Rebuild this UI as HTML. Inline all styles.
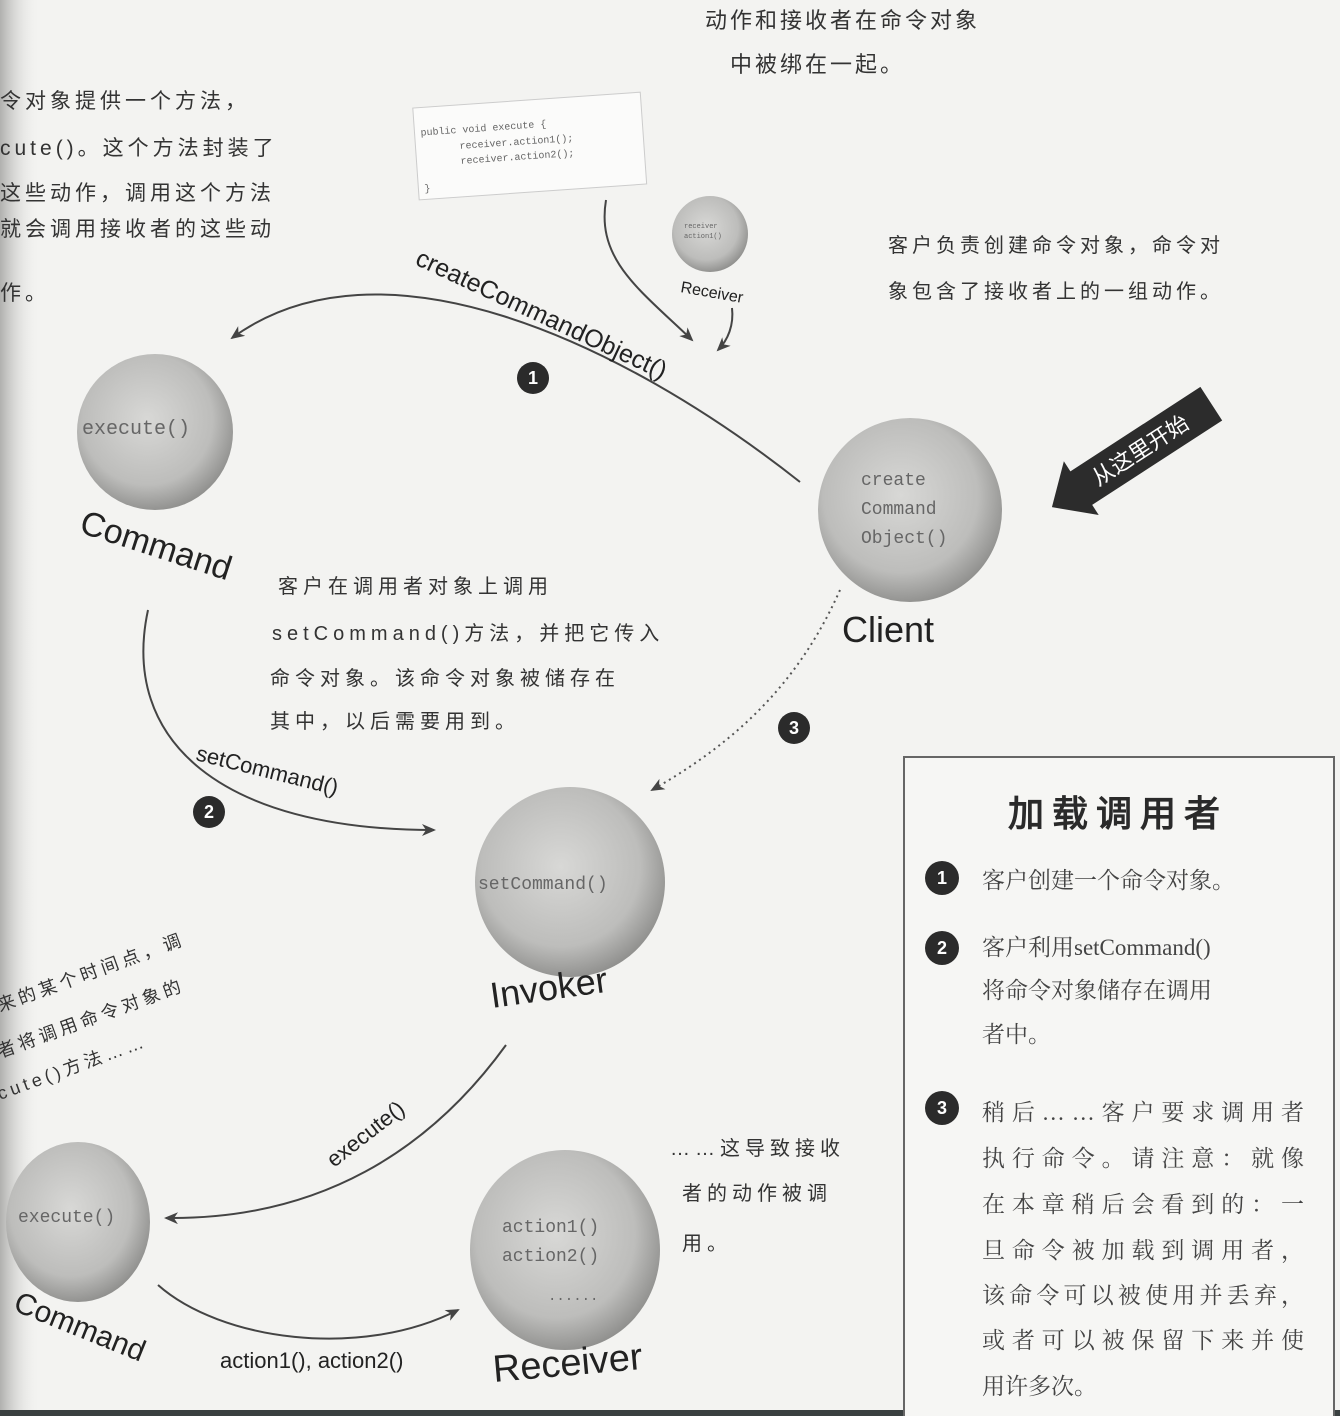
<!DOCTYPE html>
<html><head><meta charset="utf-8"><style>
html,body{margin:0;padding:0;background:#f3f3f1;}
svg{display:block}
.hw{font-family:"Liberation Sans","WenQuanYi Zen Hei",sans-serif;fill:#333;}
.mono{font-family:"Liberation Mono",monospace;fill:#666;}
.lbl{font-family:"Liberation Sans",sans-serif;fill:#222;}
.box{font-family:"Liberation Serif","Noto Serif CJK SC",serif;fill:#444;}
</style></head><body>
<svg width="1340" height="1416" viewBox="0 0 1340 1416" xmlns="http://www.w3.org/2000/svg">
<defs>
<radialGradient id="g" cx="45%" cy="42%" r="60%">
<stop offset="0" stop-color="#d8d8d6"/><stop offset="0.7" stop-color="#bdbdbb"/><stop offset="1" stop-color="#8e8e8c"/>
</radialGradient>
<linearGradient id="lg" x1="0" x2="1"><stop offset="0" stop-color="#b0b0ae"/><stop offset="1" stop-color="#f3f3f1" stop-opacity="0"/></linearGradient>
<marker id="a" markerWidth="14" markerHeight="12" refX="12" refY="6" orient="auto" markerUnits="userSpaceOnUse">
<path d="M0,0 L14,6 L0,12 L4,6 z" fill="#444"/></marker>
</defs>
<rect width="1340" height="1416" fill="#f3f3f1"/>
<rect x="0" y="0" width="40" height="1416" fill="url(#lg)"/>
<rect x="0" y="1410" width="1340" height="6" fill="#3a4040"/>

<text class="hw" font-size="22" x="705" y="28" letter-spacing="3">动作和接收者在命令对象</text>
<text class="hw" font-size="22" x="730" y="72" letter-spacing="3">中被绑在一起。</text>
<g class="hw" font-size="21" letter-spacing="4">
<text x="0" y="108">令对象提供一个方法，</text>
<text x="0" y="155">cute()。这个方法封装了</text>
<text x="0" y="200">这些动作，调用这个方法</text>
<text x="0" y="236">就会调用接收者的这些动</text>
<text x="0" y="300">作。</text>
</g>
<text class="hw" font-size="20" x="888" y="252" letter-spacing="4">客户负责创建命令对象，命令对</text>
<text class="hw" font-size="20" x="888" y="298" letter-spacing="4">象包含了接收者上的一组动作。</text>

<g transform="rotate(-4 530 150)">
<rect x="416" y="100" width="228" height="92" fill="#fbfbfa" stroke="#ccc"/>
<text class="mono" font-size="10" x="422" y="128">public void execute {</text>
<text class="mono" font-size="10" x="460" y="144">receiver.action1();</text>
<text class="mono" font-size="10" x="460" y="159">receiver.action2();</text>
<text class="mono" font-size="10" x="422" y="184">}</text>
</g>

<path d="M606,200 C596,260 640,290 692,340" fill="none" stroke="#444" stroke-width="2" marker-end="url(#a)"/>
<path d="M732,308 C734,325 728,340 718,350" fill="none" stroke="#444" stroke-width="2" marker-end="url(#a)"/>
<path d="M800,482 C620,340 380,230 232,338" fill="none" stroke="#444" stroke-width="2" marker-end="url(#a)"/>
<path d="M148,610 C120,740 220,830 434,830" fill="none" stroke="#444" stroke-width="2" marker-end="url(#a)"/>
<path d="M840,590 C800,680 740,740 652,790" fill="none" stroke="#555" stroke-width="2" stroke-dasharray="2,4" marker-end="url(#a)"/>
<path d="M506,1045 C430,1150 320,1220 166,1218" fill="none" stroke="#444" stroke-width="2" marker-end="url(#a)"/>
<path d="M158,1285 C220,1340 360,1360 458,1310" fill="none" stroke="#444" stroke-width="2" marker-end="url(#a)"/>

<circle cx="155" cy="432" r="78" fill="url(#g)"/>
<circle cx="910" cy="510" r="92" fill="url(#g)"/>
<circle cx="710" cy="234" r="38" fill="url(#g)"/>
<circle cx="570" cy="882" r="95" fill="url(#g)"/>
<ellipse cx="78" cy="1222" rx="72" ry="80" fill="url(#g)"/>
<ellipse cx="565" cy="1250" rx="95" ry="100" fill="url(#g)"/>

<text class="mono" font-size="20" x="82" y="434">execute()</text>
<text class="mono" font-size="18" x="861" y="485">create</text>
<text class="mono" font-size="18" x="861" y="514">Command</text>
<text class="mono" font-size="18" x="861" y="543">Object()</text>
<text class="mono" font-size="7" x="684" y="228">receiver</text>
<text class="mono" font-size="7" x="684" y="238">action1()</text>
<text class="mono" font-size="18" x="478" y="889">setCommand()</text>
<text class="mono" font-size="18" x="18" y="1222">execute()</text>
<text class="mono" font-size="18" x="502" y="1232">action1()</text>
<text class="mono" font-size="18" x="502" y="1261">action2()</text>
<text class="mono" font-size="14" x="548" y="1300">......</text>

<text class="lbl" font-size="34" transform="translate(78,532) rotate(18)">Command</text>
<text class="lbl" font-size="36" x="842" y="642">Client</text>
<text class="lbl" font-size="16" transform="translate(680,292) rotate(10)">Receiver</text>
<text class="lbl" font-size="36" transform="translate(492,1008) rotate(-8)">Invoker</text>
<text class="lbl" font-size="30" transform="translate(12,1310) rotate(22)">Command</text>
<text class="lbl" font-size="38" transform="translate(494,1382) rotate(-5)">Receiver</text>

<text class="lbl" font-size="25" transform="translate(414,264) rotate(25)">createCommandObject()</text>
<text class="lbl" font-size="22" transform="translate(195,760) rotate(14)">setCommand()</text>
<text class="lbl" font-size="22" transform="translate(334,1168) rotate(-38)">execute()</text>
<text class="lbl" font-size="22" fill="#333" x="220" y="1368">action1(), action2()</text>

<g font-family="Liberation Sans,sans-serif" font-weight="bold" font-size="18" text-anchor="middle">
<circle cx="533" cy="378" r="16" fill="#2b2b2b"/><text x="533" y="384" fill="#fff">1</text>
<circle cx="209" cy="812" r="16" fill="#2b2b2b"/><text x="209" y="818" fill="#fff">2</text>
<circle cx="794" cy="728" r="16" fill="#2b2b2b"/><text x="794" y="734" fill="#fff">3</text>
</g>

<g transform="translate(1140,450) rotate(-33)">
<path d="M-105,0 L-70,-32 L-70,-20 L85,-20 L85,20 L-70,20 L-70,32 z" fill="#2c2c2c"/>
<text x="0" y="8" text-anchor="middle" font-family="WenQuanYi Zen Hei,sans-serif" font-size="22" fill="#fff">从这里开始</text>
</g>

<g class="hw" font-size="20" letter-spacing="5">
<text x="278" y="593">客户在调用者对象上调用</text>
<text x="272" y="640">setCommand()方法，并把它传入</text>
<text x="270" y="685">命令对象。该命令对象被储存在</text>
<text x="270" y="728">其中，以后需要用到。</text>
</g>
<g class="hw" font-size="18" letter-spacing="4">
<text transform="translate(0,1012) rotate(-20)">来的某个时间点，调</text>
<text transform="translate(0,1058) rotate(-20)">者将调用命令对象的</text>
<text transform="translate(0,1100) rotate(-20)">cute()方法……</text>
</g>
<g class="hw" font-size="20" letter-spacing="5">
<text x="670" y="1155">……这导致接收</text>
<text x="682" y="1200">者的动作被调</text>
<text x="682" y="1250">用。</text>
</g>

<rect x="904" y="757" width="430" height="670" fill="#f6f6f4" stroke="#666" stroke-width="2"/>
<text x="1118" y="826" text-anchor="middle" font-family="WenQuanYi Zen Hei,sans-serif" font-weight="bold" font-size="36" fill="#2a2a2a" letter-spacing="8">加载调用者</text>
<g font-family="Liberation Sans,sans-serif" font-weight="bold" font-size="18" text-anchor="middle">
<circle cx="942" cy="878" r="17" fill="#2b2b2b"/><text x="942" y="884" fill="#fff">1</text>
<circle cx="942" cy="948" r="17" fill="#2b2b2b"/><text x="942" y="954" fill="#fff">2</text>
<circle cx="942" cy="1108" r="17" fill="#2b2b2b"/><text x="942" y="1114" fill="#fff">3</text>
</g>
<g class="box" font-size="23">
<text x="982" y="888">客户创建一个命令对象。</text>
<text x="982" y="955">客户利用setCommand()</text>
<text x="982" y="998">将命令对象储存在调用</text>
<text x="982" y="1042">者中。</text>
<text x="982" y="1120" textLength="322">稍后……客户要求调用者</text>
<text x="982" y="1166" textLength="322">执行命令。请注意：就像</text>
<text x="982" y="1212" textLength="322">在本章稍后会看到的：一</text>
<text x="982" y="1258" textLength="322">旦命令被加载到调用者，</text>
<text x="982" y="1303" textLength="322">该命令可以被使用并丢弃，</text>
<text x="982" y="1348" textLength="322">或者可以被保留下来并使</text>
<text x="982" y="1394">用许多次。</text>
</g>
</svg>
</body></html>
